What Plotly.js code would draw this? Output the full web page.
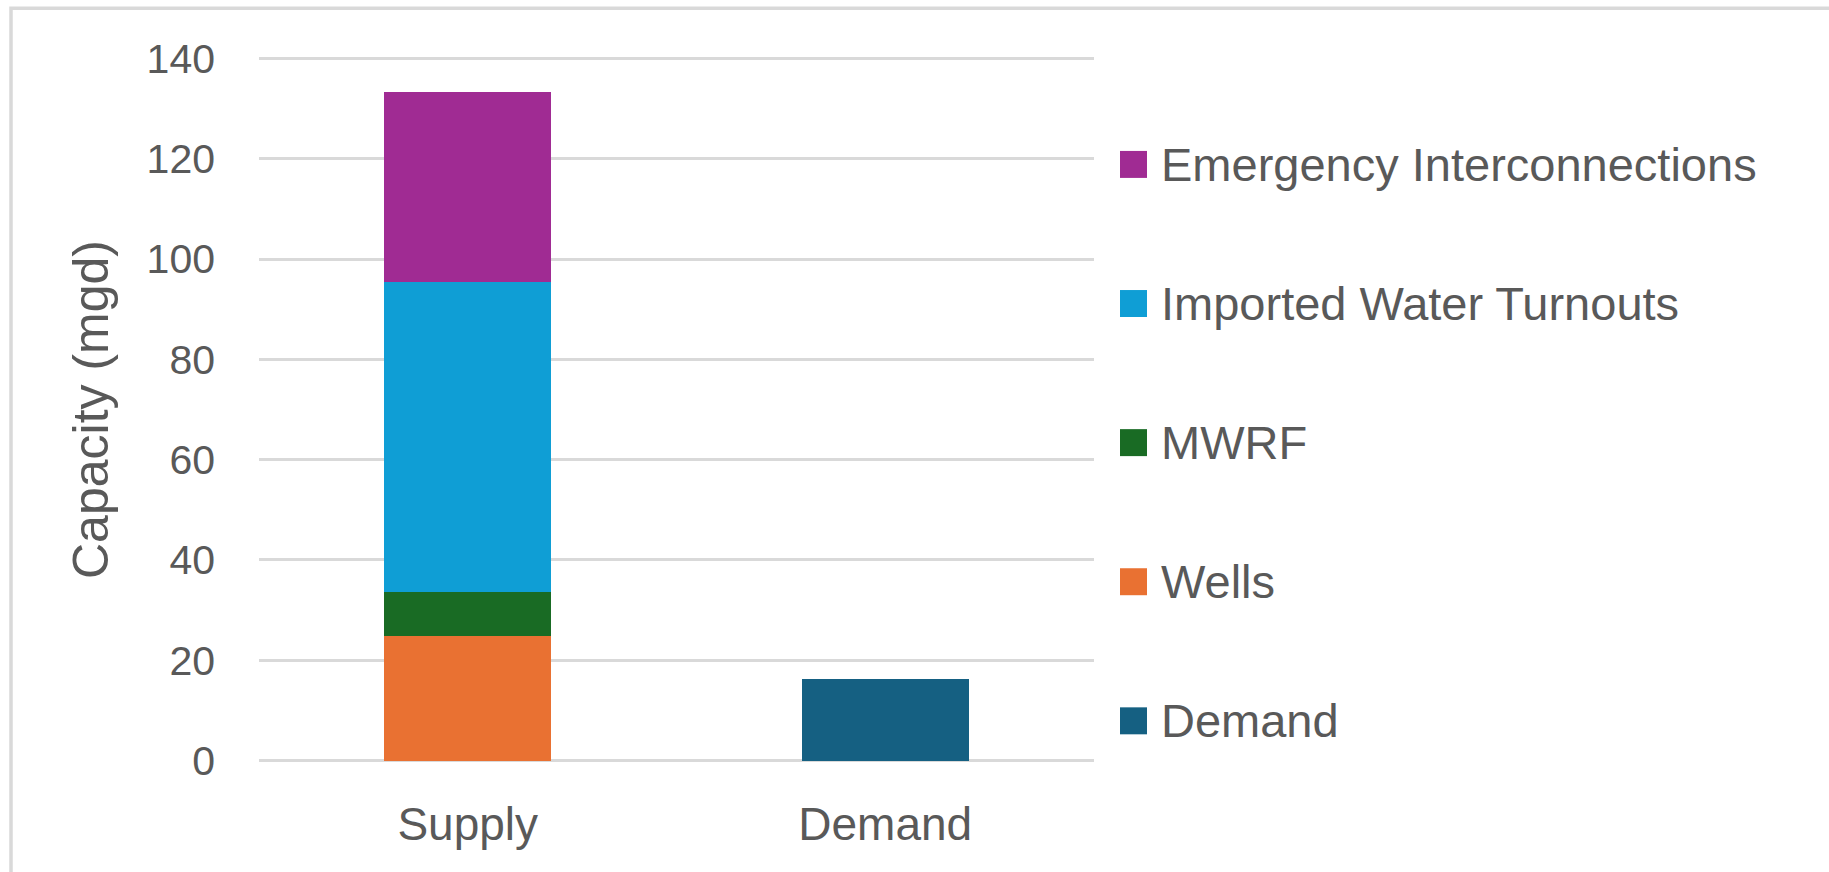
<!DOCTYPE html>
<html>
<head>
<meta charset="utf-8">
<script src="https://cdn.plot.ly/plotly-3.0.1.min.js"></script>
<style>
  html, body { margin: 0; padding: 0; background: #ffffff; }
  #chart { width: 1829px; height: 872px; }
</style>
</head>
<body>
<div id="chart"></div>
<script>
// ---- data ----
const categories = ["Supply", "Demand"];
const seriesNames = ["Wells", "MWRF", "Imported Water Turnouts", "Emergency Interconnections", "Demand"];
const seriesCategory = ["Supply", "Supply", "Supply", "Supply", "Demand"];
const wells = [24.8];
const mwrf = [8.9];
const importedWaterTurnouts = [61.7];
const emergencyInterconnections = [38.0];
const demand = [16.2];
const yTickValues = [0, 20, 40, 60, 80, 100, 120, 140];
const legendOrder = ["Emergency Interconnections", "Imported Water Turnouts", "MWRF", "Wells", "Demand"];

// ---- style ----
const colors = {
  "Wells": "#E97132",
  "MWRF": "#196B24",
  "Imported Water Turnouts": "#0F9ED5",
  "Emergency Interconnections": "#A02B93",
  "Demand": "#156082"
};
const seriesValues = [wells, mwrf, importedWaterTurnouts, emergencyInterconnections, demand];
const textColor = "#595959";
const gridColor = "#d9d9d9";
const fontFamily = "Liberation Sans, Arial, sans-serif";

const W = 1829, H = 872;
// small padding on the value axis so the 0 and 140 gridlines are drawn
const yPad = 0.3;
const margin = { l: 259, r: 735, t: 56.5, b: 110 };
const plotW = W - margin.l - margin.r;
const plotH = H - margin.t - margin.b;
const px2x = (px) => (px - margin.l) / plotW;
const py2y = (py) => (H - margin.b - py) / plotH;

const traces = seriesNames.map((name, i) => ({
  type: "bar",
  name: name,
  x: [seriesCategory[i]],
  y: seriesValues[i],
  marker: { color: colors[name], line: { width: 0 } },
  showlegend: false,
  hoverinfo: "x+y+name"
}));

// custom legend (squares + text), built from the series names
const shapes = [];
const annotations = [];
legendOrder.forEach((name, i) => {
  const cy = 164 + i * 139.2;
  const half = 13.5;
  shapes.push({
    type: "rect", xref: "paper", yref: "paper",
    x0: px2x(1120), x1: px2x(1147),
    y0: py2y(cy + half), y1: py2y(cy - half),
    fillcolor: colors[name], line: { width: 0 }
  });
  annotations.push({
    xref: "paper", yref: "paper",
    x: px2x(1159), y: py2y(cy),
    xanchor: "left", yanchor: "middle",
    text: name, showarrow: false,
    font: { family: fontFamily, size: 47, color: textColor }
  });
});

// outer chart border (Excel-like frame)
shapes.push({
  type: "rect", xref: "paper", yref: "paper",
  x0: px2x(11), x1: px2x(1860),
  y0: py2y(900), y1: py2y(7.7),
  fillcolor: "rgba(0,0,0,0)", line: { color: gridColor, width: 3.5 }
});

const yMin = Math.min(...yTickValues), yMax = Math.max(...yTickValues);

const layout = {
  width: W, height: H,
  margin: margin,
  paper_bgcolor: "#ffffff",
  plot_bgcolor: "#ffffff",
  barmode: "stack",
  bargap: 0.6,
  showlegend: false,
  font: { family: fontFamily, color: textColor },
  xaxis: {
    type: "category",
    categoryorder: "array",
    categoryarray: categories,
    showgrid: false,
    zeroline: false,
    showline: false,
    ticks: "",
    ticklabelstandoff: 31,
    tickfont: { family: fontFamily, size: 46, color: textColor },
    fixedrange: true
  },
  yaxis: {
    range: [yMin - yPad, yMax + yPad],
    tickvals: yTickValues,
    ticktext: yTickValues.map(String),
    showgrid: true,
    gridcolor: gridColor,
    gridwidth: 3,
    zeroline: false,
    showline: false,
    ticks: "",
    ticklabelstandoff: 43,
    tickfont: { family: fontFamily, size: 41, color: textColor },
    title: {
      text: "Capacity (mgd)",
      font: { family: fontFamily, size: 50, color: textColor },
      standoff: 22
    },
    fixedrange: true
  },
  shapes: shapes,
  annotations: annotations
};

Plotly.newPlot("chart", traces, layout, { displayModeBar: false, staticPlot: true });
</script>
</body>
</html>
